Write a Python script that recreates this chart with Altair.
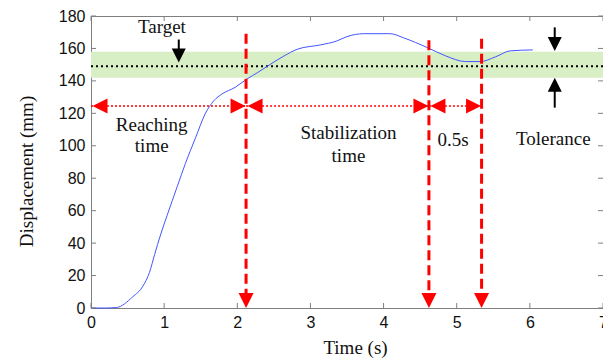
import altair as alt
import pandas as pd

# ---------------- data ----------------
time_s = [0, 0.2, 0.35, 0.57, 0.71, 0.80, 0.87, 0.95, 1.04, 1.18, 1.29, 1.43, 1.56,
          1.68, 1.79, 1.97, 2.13, 2.28, 2.42, 2.64, 2.82, 3.14, 3.36, 3.50, 3.73, 4.09,
          4.27, 4.60, 4.85, 5.12, 5.32, 5.53, 5.73, 6.04]
displacement = [0, 0, 0.3, 6.9, 13.5, 22, 33, 45, 57, 75, 89, 105, 119.6,
                127.8, 131.9, 136, 141.1, 145.2, 149.3, 155.4, 159.5, 162.2, 164.6, 167.3, 169.1, 169.1,
                166.6, 160.5, 155.4, 151.9, 151.9, 154.8, 158.5, 159.1]

target = 149
tol_low, tol_high = 142, 158

event_times = [2.12, 4.62, 5.34]
event_top = [169, 165, 166]
event_bottom = 9

span_y = 124.5
span_start = [0.0, 2.12, 4.62]
span_end = [2.12, 4.62, 5.34]

labels = ["Reaching", "time", "Stabilization", "time", "0.5s", "Tolerance", "Target"]
label_x = [0.83, 0.83, 3.52, 3.52, 4.95, 6.32, 0.97]
label_y = [109.3, 96, 104.2, 89.9, 100.1, 100.7, 169.5]

black_arrow_x = [1.2, 6.34, 6.34]
black_arrow_from = [165.5, 173, 123.5]
black_arrow_to = [155, 162, 138]
down_tip_x = [1.2, 6.34]
down_tip_y = [151.3, 158.5]
up_tip_x = [6.34]
up_tip_y = [142]

x_ticks = [0, 1, 2, 3, 4, 5, 6, 7]
y_ticks = [0, 20, 40, 60, 80, 100, 120, 140, 160, 180]

W, H = 512, 292
GRAY = "#7f7f7f"
RED = "#ff0000"
SERIF = "Liberation Serif"

xs = alt.Scale(domain=[0, 7], nice=False, zero=False)
ys = alt.Scale(domain=[0, 180], nice=False)

x_axis = alt.Axis(values=x_ticks, format="d", grid=False, ticks=False, domain=False, labelFlush=False,
                  labelOverlap=False, labelFont="Liberation Sans", labelFontSize=16, labelColor="#111111",
                  labelPadding=6, title="Time (s)", titleFont=SERIF, titleFontSize=19,
                  titleFontWeight="normal", titleColor="#111111", titleX=264, titleY=45,
                  titleAlign="center", titleBaseline="alphabetic")
y_axis = alt.Axis(values=y_ticks, format="d", grid=False, ticks=False, domain=False, labelFlush=False,
                  labelOverlap=False, labelFont="Liberation Sans", labelFontSize=16, labelColor="#111111",
                  labelPadding=6, title="Displacement (mm)", titleFont=SERIF, titleFontSize=19,
                  titleFontWeight="normal", titleColor="#111111", titleX=-59, titleY=155,
                  titleAlign="center", titleBaseline="alphabetic", titleAngle=270)


def X(field):
    return alt.X(field, scale=xs, axis=x_axis)


def Y(field):
    return alt.Y(field, scale=ys, axis=y_axis)


# tolerance band
band = alt.Chart(pd.DataFrame({"x": [0], "x2": [7], "lo": [tol_low], "hi": [tol_high]})).mark_rect(
    color="#d8eec4").encode(
    x=X("x:Q"), x2="x2:Q", y=Y("lo:Q"), y2="hi:Q")

target_line = alt.Chart(pd.DataFrame({"x": [0], "x2": [7], "y": [target]})).mark_rule(
    color="black", strokeWidth=2, strokeDash=[2, 3]).encode(
    x=X("x:Q"), x2="x2:Q", y=Y("y:Q"))

curve = alt.Chart(pd.DataFrame({"t": time_s, "d": displacement})).mark_line(
    color="#4455ff", strokeWidth=1, interpolate="monotone").encode(
    x=X("t:Q"), y=Y("d:Q"), order="t:Q")

ev = pd.DataFrame({"x": event_times, "top": event_top, "bot": [event_bottom] * 3})
vlines = alt.Chart(ev).mark_rule(color=RED, strokeWidth=3, strokeDash=[10, 5]).encode(
    x=X("x:Q"), y=Y("top:Q"), y2="bot:Q")
down_heads = alt.Chart(pd.DataFrame({"x": event_times, "y": [0] * 3})).mark_point(
    shape="M-1,-1L1,-1L0,1Z", filled=True, color=RED, opacity=1, size=225, yOffset=-7.5).encode(
    x=X("x:Q"), y=Y("y:Q"))

spans = pd.DataFrame({"x": span_start, "x2": span_end, "y": [span_y] * 3})
hlines = alt.Chart(spans).mark_rule(color=RED, strokeWidth=1.5, strokeDash=[2, 2]).encode(
    x=X("x:Q"), x2="x2:Q", y=Y("y:Q"))
left_heads = alt.Chart(spans).mark_point(
    shape="M1,-1L-1,0L1,1Z", filled=True, color=RED, opacity=1, size=225, xOffset=9).encode(
    x=X("x:Q"), y=Y("y:Q"))
right_heads = alt.Chart(spans).mark_point(
    shape="M-1,-1L1,0L-1,1Z", filled=True, color=RED, opacity=1, size=225, xOffset=-8).encode(
    x=X("x2:Q"), y=Y("y:Q"))

shafts = alt.Chart(pd.DataFrame({"x": black_arrow_x, "a": black_arrow_from, "b": black_arrow_to})).mark_rule(
    color="black", strokeWidth=2).encode(
    x=X("x:Q"), y=Y("a:Q"), y2="b:Q")
bdown = alt.Chart(pd.DataFrame({"x": down_tip_x, "y": down_tip_y})).mark_point(
    shape="M-1,-1L1,-1L0,1Z", filled=True, color="black", opacity=1, size=196, yOffset=-7).encode(
    x=X("x:Q"), y=Y("y:Q"))
bup = alt.Chart(pd.DataFrame({"x": up_tip_x, "y": up_tip_y})).mark_point(
    shape="M-1,1L1,1L0,-1Z", filled=True, color="black", opacity=1, size=196, yOffset=7).encode(
    x=X("x:Q"), y=Y("y:Q"))

texts = alt.Chart(pd.DataFrame({"x": label_x, "y": label_y, "s": labels})).mark_text(
    font=SERIF, fontSize=19, color="#111111", align="center", baseline="alphabetic").encode(
    x=X("x:Q"), y=Y("y:Q"), text="s:N")

# inward ticks (MATLAB style)
xt = pd.DataFrame({"v": x_ticks})
yt = pd.DataFrame({"v": y_ticks})
tick_bottom = alt.Chart(xt).mark_rule(color=GRAY, strokeWidth=1).encode(
    x=X("v:Q"), y=alt.value(H), y2=alt.value(H - 5))
tick_top = alt.Chart(xt).mark_rule(color=GRAY, strokeWidth=1).encode(
    x=X("v:Q"), y=alt.value(0), y2=alt.value(5))
tick_left = alt.Chart(yt).mark_rule(color=GRAY, strokeWidth=1).encode(
    y=Y("v:Q"), x=alt.value(0), x2=alt.value(5))
tick_right = alt.Chart(yt).mark_rule(color=GRAY, strokeWidth=1).encode(
    y=Y("v:Q"), x=alt.value(W), x2=alt.value(W - 5))

chart = alt.layer(
    band, target_line, curve, hlines, vlines, down_heads, left_heads, right_heads,
    shafts, bdown, bup, texts, tick_bottom, tick_top, tick_left, tick_right
).properties(
    width=W, height=H,
    padding={"left": 83, "top": 8, "right": 0, "bottom": 50},
    autosize=alt.AutoSizeParams(type="none"),
    background="white",
).configure_view(stroke=GRAY, strokeWidth=1).configure_axis(labelOverlap=False)

chart.save("out.html", embed_options={"renderer": "svg", "actions": False})
